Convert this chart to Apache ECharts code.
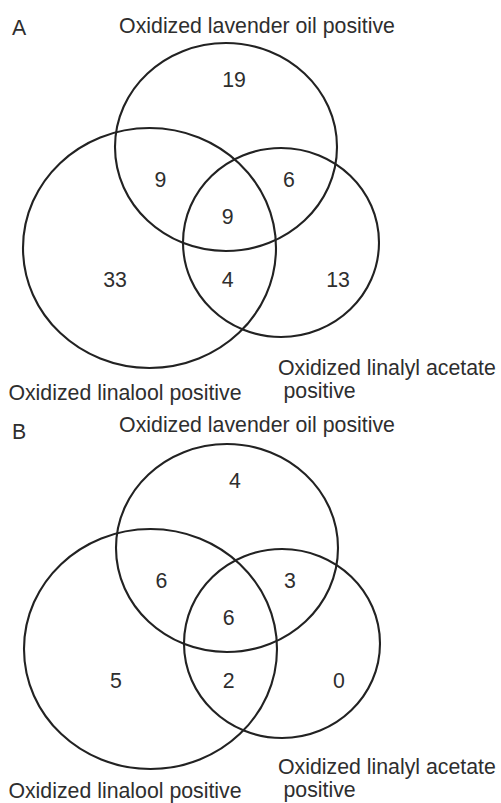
<!DOCTYPE html>
<html>
<head>
<meta charset="utf-8">
<script src="https://cdn.jsdelivr.net/npm/echarts@6/dist/echarts.min.js"></script>
<style>
  html, body { margin: 0; padding: 0; background: #ffffff; }
  #chart { width: 501px; height: 803px; }
</style>
</head>
<body>
<div id="chart"></div>
<script>
// ---------------- DATA ----------------
const panelLetters = ['A', 'B'];
const setNames = ['Oxidized lavender oil positive', 'Oxidized linalool positive', 'Oxidized linalyl acetate positive'];
// regions: lavender only, lavender∩linalool, lavender∩linalyl acetate, all three,
//          linalool only, linalool∩linalyl acetate, linalyl acetate only
const regionNames = ['lavender only', 'lavender + linalool', 'lavender + linalyl acetate', 'all three',
                     'linalool only', 'linalool + linalyl acetate', 'linalyl acetate only'];
const countsA = [19, 9, 6, 9, 33, 4, 13];
const countsB = [4, 6, 3, 6, 5, 2, 0];

// ---------------- LAYOUT (panel-local coordinates) ----------------
const panelShift = [[0, 0], [1, 401]];
const circleLayout = [ // [cx, cy, rx, ry]
  [226, 147, 111, 104],
  [149.5, 248, 126.5, 120],
  [281, 242.5, 98, 94.5]
];
const regionLayout = [
  [234, 80], [160.5, 179.5], [289, 179.5], [227.7, 216.5],
  [115, 279.5], [227.7, 279.5], [338, 279.5]
];
// label anchor positions per panel: [titleY, linaloolY, acetateLine1Y, acetateLine2Y, letterY]
const labelY = [
  [25.7, 393.3, 368.4, 390.6, 28],
  [425.2, 790.5, 767.2, 790.4, 431.5]
];
const FONT = 'Liberation Sans, Arial, Helvetica, sans-serif';
const FS = 21.3;
const INK = '#222222';
const TEXT_INK = '#2e2e2e';

const counts = [countsA, countsB];
const circleData = [], countData = [], labelData = [], letterData = [];
for (let p = 0; p < panelLetters.length; p++) {
  letterData.push([p, 0]);
  for (let s = 0; s < setNames.length; s++) { circleData.push([p, s]); labelData.push([p, s]); }
  for (let r = 0; r < regionNames.length; r++) countData.push([p, r, counts[p][r]]);
}

function txt(api, x, y, text, align) {
  const c = api.coord([x, y]);
  return {
    type: 'text', x: c[0], y: c[1],
    style: { text: text, fill: TEXT_INK, fontSize: FS, fontFamily: FONT,
             align: align || 'center', verticalAlign: 'middle' }
  };
}

const chart = echarts.init(document.getElementById('chart'), null, { renderer: 'svg' });
chart.setOption({
  backgroundColor: '#ffffff',
  animation: false,
  grid: { left: 0, right: 0, top: 0, bottom: 0 },
  xAxis: { type: 'value', min: 0, max: 501, show: false },
  yAxis: { type: 'value', min: 0, max: 803, inverse: true, show: false },
  series: [
    {
      type: 'custom', name: 'sets', data: circleData, silent: true,
      renderItem: function (params, api) {
        const p = api.value(0), s = api.value(1);
        const L = circleLayout[s], sh = panelShift[p];
        const c = api.coord([L[0] + sh[0], L[1] + sh[1]]);
        const sz = api.size([L[2], L[3]]);
        return {
          type: 'ellipse',
          shape: { cx: c[0], cy: c[1], rx: sz[0], ry: sz[1] },
          style: { fill: 'none', stroke: INK, lineWidth: 2.1 }
        };
      }
    },
    {
      type: 'custom', name: 'counts', data: countData, silent: true,
      renderItem: function (params, api) {
        const p = api.value(0), r = api.value(1), v = api.value(2);
        const L = regionLayout[r], sh = panelShift[p];
        return txt(api, L[0] + sh[0], L[1] + sh[1], String(v));
      }
    },
    {
      type: 'custom', name: 'setLabels', data: labelData, silent: true,
      renderItem: function (params, api) {
        const p = api.value(0), s = api.value(1);
        const Y = labelY[p];
        const name = setNames[s];
        if (s === 0) return txt(api, 257, Y[0], name);
        if (s === 1) return txt(api, 125, Y[1], name);
        const cut = name.lastIndexOf(' ');
        return {
          type: 'group',
          children: [
            txt(api, 278, Y[2], name.slice(0, cut), 'left'),
            txt(api, 283.5, Y[3], name.slice(cut + 1), 'left')
          ]
        };
      }
    },
    {
      type: 'custom', name: 'panelLetters', data: letterData, silent: true,
      renderItem: function (params, api) {
        const p = api.value(0);
        return txt(api, 12, labelY[p][4], panelLetters[p], 'left');
      }
    }
  ]
});
</script>
</body>
</html>
